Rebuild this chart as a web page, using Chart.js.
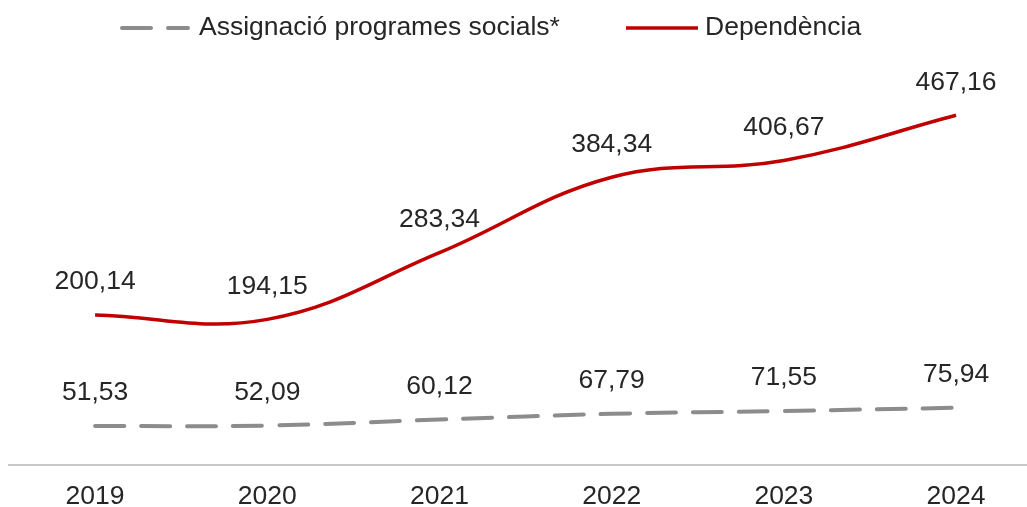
<!DOCTYPE html>
<html>
<head>
<meta charset="utf-8">
<script src="https://cdn.jsdelivr.net/npm/chart.js@4.4.0/dist/chart.umd.min.js"></script>
<style>
  html, body { margin: 0; padding: 0; background: #fff; overflow: hidden; }
  #wrap { width: 1027px; height: 507px; }
</style>
</head>
<body>
<div id="wrap"><canvas id="chart" width="1027" height="507"></canvas></div>
<script>
// données
const years = ['2019', '2020', '2021', '2022', '2023', '2024'];
const dependencia = [200.14, 194.15, 283.34, 384.34, 406.67, 467.16];
const assignacio = [51.53, 52.09, 60.12, 67.79, 71.55, 75.94];

const FONT = '"Liberation Sans", Arial, sans-serif';
const TEXT = '#262626';
const SIZE = 26.5;

function fmt(v) {
    return v.toFixed(2).replace('.', ',');
}

// étiquettes de valeur au-dessus des points + légende dessinée à la main
const labelsPlugin = {
    id: 'labelsPlugin',
    afterDatasetsDraw(chart) {
        const ctx = chart.ctx;
        ctx.save();
        ctx.font = SIZE + 'px ' + FONT;
        ctx.fillStyle = TEXT;
        ctx.textAlign = 'center';
        ctx.textBaseline = 'middle';
        chart.data.datasets.forEach((ds, i) => {
            chart.getDatasetMeta(i).data.forEach((pt, j) => {
                ctx.fillText(fmt(ds.data[j].y), pt.x, pt.y - 33);
            });
        });

        // légende
        const items = [
            { ds: chart.data.datasets[0], x0: 120, x1: 190, tx: 199 },
            { ds: chart.data.datasets[1], x0: 626, x1: 698, tx: 705 }
        ];
        const ly = 28;
        items.forEach(it => {
            ctx.beginPath();
            ctx.strokeStyle = it.ds.borderColor;
            ctx.lineWidth = it.ds.borderWidth;
            ctx.lineCap = it.ds.borderCapStyle || 'butt';
            ctx.setLineDash(it.ds.borderDash || []);
            ctx.moveTo(it.x0 + (it.ds.borderDash ? 2 : 0), ly);
            ctx.lineTo(it.x1 - (it.ds.borderDash ? 2 : 0), ly);
            ctx.stroke();
            ctx.setLineDash([]);
            ctx.textAlign = 'left';
            ctx.fillStyle = TEXT;
            ctx.fillText(it.ds.label, it.tx, ly);
        });
        ctx.restore();
    }
};

const ctx = document.getElementById('chart').getContext('2d');
new Chart(ctx, {
    type: 'line',
    data: {
        datasets: [
            {
                label: 'Assignació programes socials*',
                data: assignacio.map((v, i) => ({ x: i, y: v })),
                borderColor: '#8c8c8c',
                borderWidth: 4,
                borderDash: [29, 17],
                borderCapStyle: 'round',
                pointRadius: 0,
                tension: 0.4,
                fill: false
            },
            {
                label: 'Dependència',
                data: dependencia.map((v, i) => ({ x: i, y: v })),
                borderColor: '#c00000',
                borderWidth: 3.5,
                pointRadius: 0,
                tension: 0.4,
                fill: false
            }
        ]
    },
    options: {
        responsive: false,
        animation: false,
        layout: { padding: { top: 16, left: 9, right: 0, bottom: -22 } },
        scales: {
            x: {
                type: 'linear',
                min: -0.5,
                max: 5.412,
                afterBuildTicks: (scale) => {
                    scale.ticks = years.map((_, i) => ({ value: i }));
                },
                ticks: {
                    callback: (v) => years[v] ?? '',
                    font: { family: FONT, size: SIZE, lineHeight: 1 },
                    color: TEXT,
                    padding: 19,
                    maxRotation: 0,
                    autoSkip: false
                },
                grid: { display: false, drawTicks: false },
                border: { display: true, color: '#c8c8c8', width: 2 }
            },
            y: {
                display: false,
                min: 0,
                max: 600
            }
        },
        plugins: {
            legend: { display: false },
            tooltip: { enabled: false }
        }
    },
    plugins: [labelsPlugin]
});
</script>
</body>
</html>
